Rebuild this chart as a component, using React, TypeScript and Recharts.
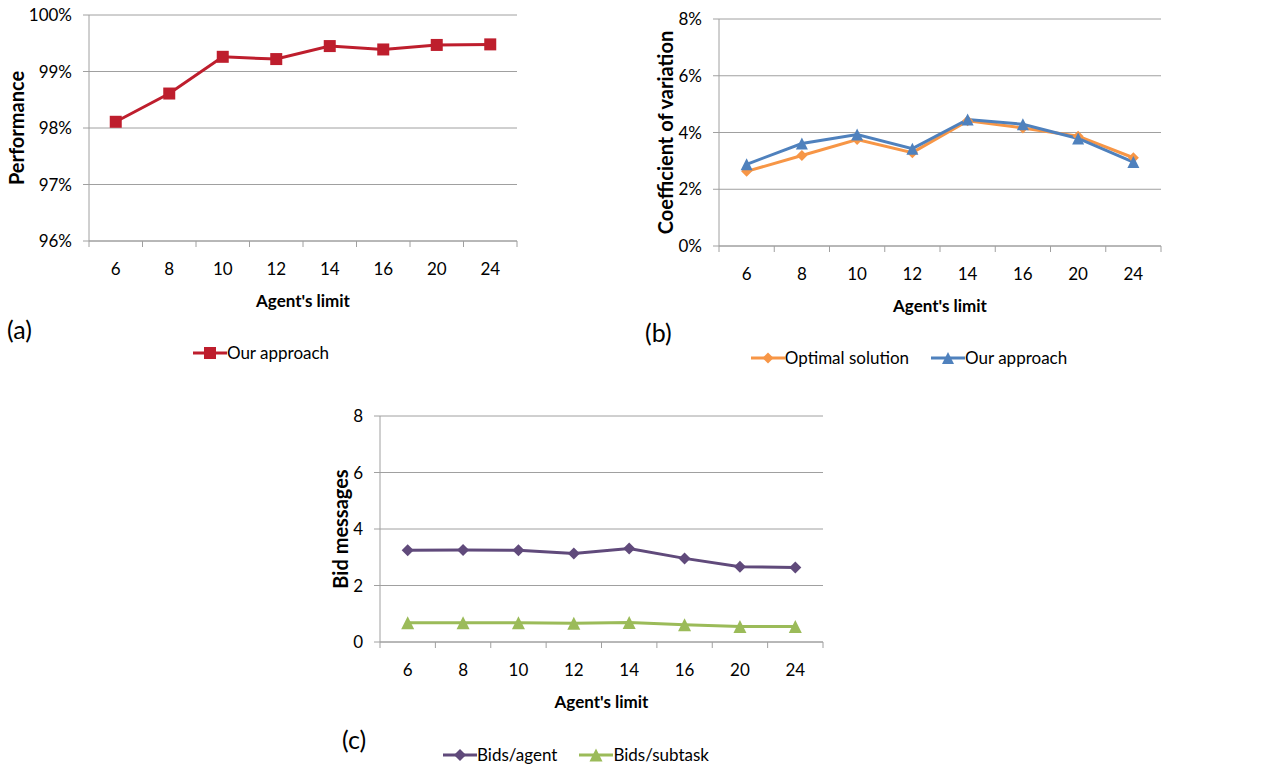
import React from "react";
import { LineChart, Line, XAxis, YAxis, CartesianGrid, Legend } from "recharts";

// x categories (agent's limit)
const agentLimits = ["6", "8", "10", "12", "14", "16", "20", "24"];

// (a) performance, in %
const performance = [98.11, 98.61, 99.26, 99.22, 99.45, 99.39, 99.47, 99.48];
const perfTicks = [96, 97, 98, 99, 100];

// (b) coefficient of variation, in %
const cvOptimal = [2.63, 3.19, 3.75, 3.29, 4.41, 4.16, 3.87, 3.11];
const cvOurs = [2.88, 3.61, 3.93, 3.43, 4.46, 4.29, 3.79, 2.96];
const cvTicks = [0, 2, 4, 6, 8];

// (c) bid messages
const bidsPerAgent = [3.25, 3.26, 3.25, 3.13, 3.31, 2.96, 2.66, 2.64];
const bidsPerSubtask = [0.68, 0.68, 0.68, 0.66, 0.69, 0.61, 0.55, 0.55];
const bidTicks = [0, 2, 4, 6, 8];

const FONT = "Lato, 'Open Sans', sans-serif";
const GRID = "#A0A0A0";
const RED = "#BE1E2D";
const ORANGE = "#F79646";
const BLUE = "#4F81BD";
const PURPLE = "#604A7B";
const GREEN = "#9BBB59";

const perfData = agentLimits.map((k, i) => ({ k, perf: performance[i] }));
const cvData = agentLimits.map((k, i) => ({ k, opt: cvOptimal[i], ours: cvOurs[i] }));
const bidData = agentLimits.map((k, i) => ({ k, agent: bidsPerAgent[i], subtask: bidsPerSubtask[i] }));

type Shape = "square" | "diamond" | "triangle";

const marker = (shape: Shape, cx: number, cy: number, s: number, color: string, key?: string) => {
  if (shape === "square")
    return <rect key={key} x={cx - s / 2} y={cy - s / 2} width={s} height={s} fill={color} />;
  if (shape === "diamond")
    return (
      <polygon key={key} points={`${cx},${cy - s / 2} ${cx + s / 2},${cy} ${cx},${cy + s / 2} ${cx - s / 2},${cy}`} fill={color} />
    );
  return (
    <polygon key={key} points={`${cx},${cy - s / 2} ${cx + s / 2},${cy + s / 2} ${cx - s / 2},${cy + s / 2}`} fill={color} />
  );
};

const dot = (shape: Shape, s: number, color: string) => (p: any) =>
  marker(shape, p.cx, p.cy, s, color, `d-${p.index}`);

interface LegendItem { label: string; color: string; shape: Shape; size: number }

const LegendBox = ({ items }: { items: LegendItem[] }) => (
  <div style={{ display: "flex", justifyContent: "center", gap: 22, fontFamily: FONT, fontSize: 17, color: "#000" }}>
    {items.map(it => (
      <div key={it.label} style={{ display: "flex", alignItems: "center" }}>
        <svg width={34} height={16}>
          <line x1={0} x2={34} y1={8} y2={8} stroke={it.color} strokeWidth={3} />
          {marker(it.shape, 17, 8, it.size, it.color)}
        </svg>
        <span>{it.label}</span>
      </div>
    ))}
  </div>
);

interface PanelProps {
  left: number;
  top: number;
  width: number;
  height: number;
  margin: { top: number; right: number; bottom: number; left: number };
  yWidth: number;
  data: any[];
  domain: [number, number];
  ticks: number[];
  pct: boolean;
  yTitle: string;
  yTitleX: number;
  legendTop: number;
  legendLeft: number;
  legendWidth: number;
  items: LegendItem[];
  series: { key: string; color: string; shape: Shape; size: number }[];
}

const Panel: React.FC<PanelProps> = p => {
  const plotLeft = p.margin.left + p.yWidth;
  const plotRight = p.width - p.margin.right;
  const plotBottom = p.height - p.margin.bottom - 70;
  const bw = (plotRight - plotLeft) / agentLimits.length;
  const last = agentLimits[agentLimits.length - 1];

  const xTick = (t: any) => (
    <g>
      <line x1={t.x - bw / 2} x2={t.x - bw / 2} y1={plotBottom} y2={plotBottom + 6} stroke={GRID} />
      {t.payload.value === last && (
        <line x1={t.x + bw / 2} x2={t.x + bw / 2} y1={plotBottom} y2={plotBottom + 6} stroke={GRID} />
      )}
      <text x={t.x} y={plotBottom + 27} textAnchor="middle" dominantBaseline="central" fontFamily={FONT} fontSize={17} fill="#000">
        {t.payload.value}
      </text>
    </g>
  );

  return (
    <div style={{ position: "absolute", left: p.left, top: p.top }}>
      <LineChart width={p.width} height={p.height} data={p.data} margin={p.margin}>
        <CartesianGrid vertical={false} stroke={GRID} strokeWidth={1} />
        <XAxis
          dataKey="k"
          interval={0}
          height={70}
          padding={{ left: bw / 2, right: bw / 2 }}
          axisLine={{ stroke: GRID }}
          tickLine={false}
          tick={xTick}
          label={() => (
            <text x={(plotLeft + plotRight) / 2} y={plotBottom + 59} textAnchor="middle" dominantBaseline="central" fontFamily={FONT} fontWeight="bold" fontSize={17} fill="#000">
              Agent's limit
            </text>
          )}
        />
        <YAxis
          width={p.yWidth}
          domain={p.domain}
          ticks={p.ticks}
          interval={0}
          axisLine={{ stroke: GRID }}
          tickLine={{ stroke: GRID }}
          tickSize={6}
          tickMargin={11}
          tick={{ fill: "#000", fontSize: 17, fontFamily: FONT }}
          tickFormatter={(v: number) => (p.pct ? `${v}%` : `${v}`)}
          label={() => {
            const cy = (p.margin.top + plotBottom) / 2;
            return (
              <text x={p.yTitleX} y={cy} transform={`rotate(-90 ${p.yTitleX} ${cy})`} textAnchor="middle" dominantBaseline="central" fontFamily={FONT} fontWeight="bold" fontSize={20} fill="#000">
                {p.yTitle}
              </text>
            );
          }}
        />
        {p.series.map(s => (
          <Line
            key={s.key}
            dataKey={s.key}
            stroke={s.color}
            strokeWidth={3}
            dot={dot(s.shape, s.size, s.color)}
            activeDot={false}
            isAnimationActive={false}
          />
        ))}
        <Legend
          layout="horizontal"
          verticalAlign="middle"
          wrapperStyle={{ left: p.legendLeft, top: p.legendTop, width: p.legendWidth }}
          content={() => <LegendBox items={p.items} />}
        />
      </LineChart>
    </div>
  );
};

const tag = (text: string, left: number, top: number) => (
  <div style={{ position: "absolute", left, top, fontFamily: FONT, fontSize: 25, color: "#000", lineHeight: "30px" }}>{text}</div>
);

export default function App() {
  return (
    <div style={{ position: "absolute", left: 0, top: 0, width: 1264, height: 769, background: "#fff", overflow: "hidden" }}>
      <Panel
        left={0}
        top={0}
        width={540}
        height={380}
        margin={{ top: 15, right: 23, bottom: 69, left: 0 }}
        yWidth={89}
        data={perfData}
        domain={[96, 100]}
        ticks={perfTicks}
        pct
        yTitle="Performance"
        yTitleX={16}
        legendLeft={0}
        legendTop={342}
        legendWidth={522}
        items={[{ label: "Our approach", color: RED, shape: "square", size: 12 }]}
        series={[{ key: "perf", color: RED, shape: "square", size: 12 }]}
      />
      <Panel
        left={639}
        top={0}
        width={545}
        height={380}
        margin={{ top: 19, right: 23, bottom: 64, left: 0 }}
        yWidth={80}
        data={cvData}
        domain={[0, 8]}
        ticks={cvTicks}
        pct
        yTitle="Coefficient of variation"
        yTitleX={26}
        legendLeft={0}
        legendTop={347}
        legendWidth={540}
        items={[
          { label: "Optimal solution", color: ORANGE, shape: "diamond", size: 11 },
          { label: "Our approach", color: BLUE, shape: "triangle", size: 12 },
        ]}
        series={[
          { key: "opt", color: ORANGE, shape: "diamond", size: 11 },
          { key: "ours", color: BLUE, shape: "triangle", size: 12 },
        ]}
      />
      <Panel
        left={300}
        top={400}
        width={543}
        height={369}
        margin={{ top: 16, right: 20, bottom: 57, left: 0 }}
        yWidth={80}
        data={bidData}
        domain={[0, 8]}
        ticks={bidTicks}
        pct={false}
        yTitle="Bid messages"
        yTitleX={40}
        legendLeft={0}
        legendTop={344}
        legendWidth={552}
        items={[
          { label: "Bids/agent", color: PURPLE, shape: "diamond", size: 12 },
          { label: "Bids/subtask", color: GREEN, shape: "triangle", size: 13 },
        ]}
        series={[
          { key: "agent", color: PURPLE, shape: "diamond", size: 12 },
          { key: "subtask", color: GREEN, shape: "triangle", size: 13 },
        ]}
      />
      {tag("(a)", 7, 314)}
      {tag("(b)", 645, 317)}
      {tag("(c)", 342, 724)}
    </div>
  );
}
